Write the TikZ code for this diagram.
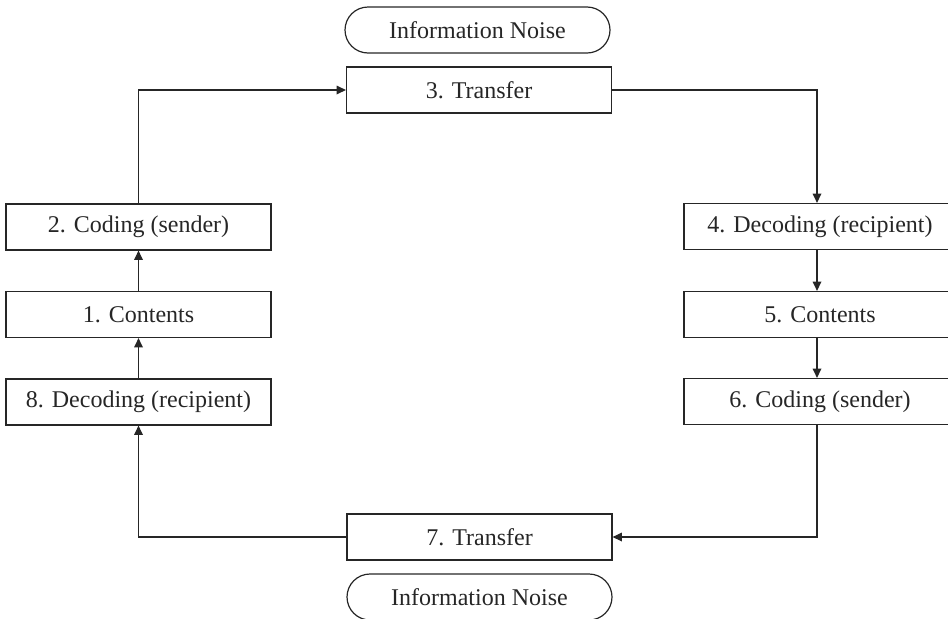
\documentclass[tikz,border=0pt]{standalone}
\usepackage{fontspec}
\setmainfont{Liberation Serif}
\usetikzlibrary{arrows.meta,shapes.misc}
\begin{document}
\begin{tikzpicture}[x=0.75pt,y=-0.75pt,
  box/.style={draw=black!85, line width=0.9pt, minimum width=198.75pt, minimum height=34.5pt, inner sep=0pt, text=black!85, font=\fontsize{18}{21}\selectfont},
  rbox/.style={box, minimum width=204pt},
  noise/.style={box, rounded rectangle},
  conn/.style={draw=black!85, line width=0.9pt, -{Triangle[length=7pt,width=6.5pt]}}]
\clip (0,0) rectangle (948,618);
\coordinate (rx) at (817,0);
\node[noise] (n1) at (477.5,30) {Information Noise};
\node[box] (t3) at (479,90) {3. Transfer};
\node[box] (c2) at (138.5,227) {2. Coding (sender)};
\node[box] (ct1) at (138.5,314.5) {1. Contents};
\node[box] (d8) at (138.5,402) {8. Decoding (recipient)};
\node[rbox] (d4) at (820,226.5) {4. Decoding (recipient)};
\node[rbox] (ct5) at (820,314.5) {5. Contents};
\node[rbox] (c6) at (820,401.5) {6. Coding (sender)};
\node[box] (t7) at (479.5,537) {7. Transfer};
\node[noise] (n2) at (479.5,597) {Information Noise};
\draw[conn] (c2.north) |- (t3.west);
\draw[conn] (t3.east) -| (d4.north -| rx);
\draw[conn] (d4.south -| rx) -- (ct5.north -| rx);
\draw[conn] (ct5.south -| rx) -- (c6.north -| rx);
\draw[conn] (c6.south -| rx) |- (t7.east);
\draw[conn] (t7.west) -| (d8.south);
\draw[conn] (d8) -- (ct1);
\draw[conn] (ct1) -- (c2);
\end{tikzpicture}
\end{document}
